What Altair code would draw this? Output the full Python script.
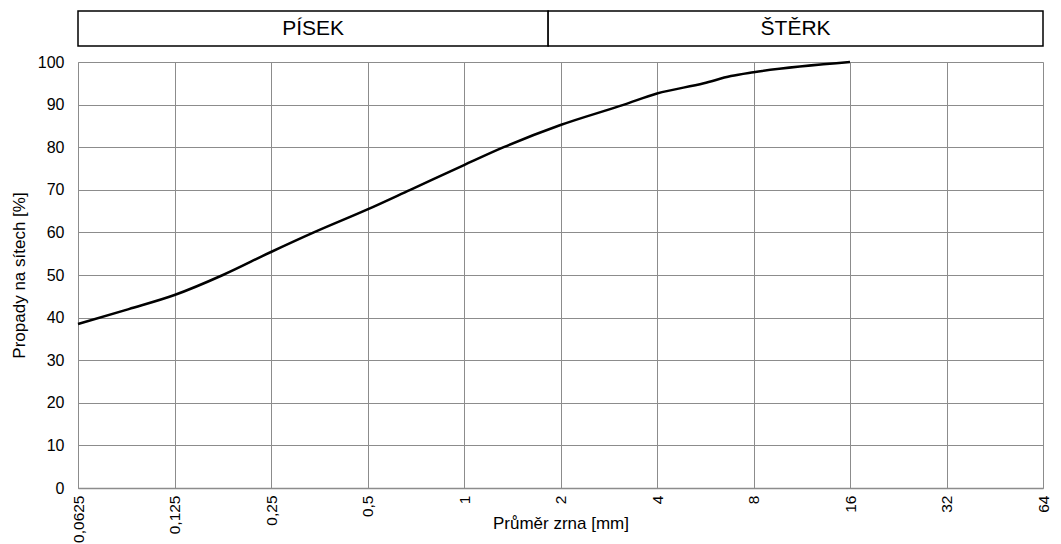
import altair as alt
import pandas as pd

# grain size curve (mm, % passing)
grain_mm = [0.0625, 0.09, 0.125, 0.177, 0.25, 0.34, 0.5, 0.68, 1.0, 1.33, 2.0, 3.16, 4.0, 5.6, 6.8, 8.0, 16.0]
passing = [38.5, 42.0, 45.3, 50.0, 55.4, 60.0, 65.4, 70.0, 75.8, 80.0, 85.2, 90.0, 92.6, 95.0, 96.7, 97.6, 100.0]

x_ticks = [0.0625, 0.125, 0.25, 0.5, 1, 2, 4, 8, 16, 32, 64]
x_labels = ["0,0625", "0,125", "0,25", "0,5", "1", "2", "4", "8", "16", "32", "64"]
y_ticks = [0, 10, 20, 30, 40, 50, 60, 70, 80, 90, 100]

header_names = ["PÍSEK", "ŠTĚRK"]
header_start = [0.0625, 1.83]
header_end = [1.83, 64]

curve = pd.DataFrame({"d": grain_mm, "p": passing})
header = pd.DataFrame({"name": header_names, "x0": header_start, "x1": header_end})
header["xm"] = (header["x0"] * header["x1"]) ** 0.5

label_expr = "{" + ",".join(f"'{v}':'{l}'" for v, l in zip(x_ticks, x_labels)) + "}[toString(datum.value)]"

FONT = "Liberation Sans"
GRID = "#8c8c8c"

xscale = alt.Scale(type="log", base=2, domain=[0.0625, 64], nice=False)
yscale = alt.Scale(domain=[0, 100], nice=False)

line = alt.Chart(curve).mark_line(color="black", strokeWidth=2.5, interpolate="monotone").encode(
    x=alt.X("d:Q", scale=xscale,
            axis=alt.Axis(values=x_ticks, labelExpr=label_expr, title="Průměr zrna [mm]",
                          labelAngle=270, ticks=False, labelPadding=7, labelFontSize=15.5,
                          labelFont=FONT, titleFont=FONT, titleFontSize=17, titleFontWeight="normal",
                          titleY=35, titleBaseline="middle",
                          labelOverlap=False, labelFlush=False, labelBound=False,
                          gridColor=GRID, gridOpacity=1, gridWidth=1,
                          domainColor=GRID, domainWidth=1.5, labelColor="black", titleColor="black")),
    y=alt.Y("p:Q", scale=yscale,
            axis=alt.Axis(values=y_ticks, title="Propady na sítech [%]", ticks=False, labelPadding=14,
                          labelFontSize=16, labelFont=FONT, titleFont=FONT, titleFontSize=17,
                          titleFontWeight="normal", titleX=-59, titleBaseline="middle",
                          gridColor=GRID, gridOpacity=1, gridWidth=1,
                          domainColor=GRID, labelColor="black", titleColor="black")),
)

boxes = alt.Chart(header).mark_rect(fill="white", stroke="black", strokeWidth=1.5).encode(
    x=alt.X("x0:Q", scale=xscale),
    x2="x1:Q",
    y=alt.value(-51),
    y2=alt.value(-16),
)

texts = alt.Chart(header).mark_text(font=FONT, fontSize=21, color="black", baseline="middle").encode(
    x=alt.X("xm:Q", scale=xscale),
    y=alt.value(-33),
    text="name:N",
)

chart = alt.layer(boxes, texts, line).properties(
    width=965, height=426,
    autosize=alt.AutoSizeParams(type="none"),
    padding={"left": 70, "top": 54, "right": 10, "bottom": 56},
).configure_view(stroke=GRID, strokeWidth=1.5).configure(background="white")

chart.save("out.html", embed_options={"renderer": "svg", "actions": False})
